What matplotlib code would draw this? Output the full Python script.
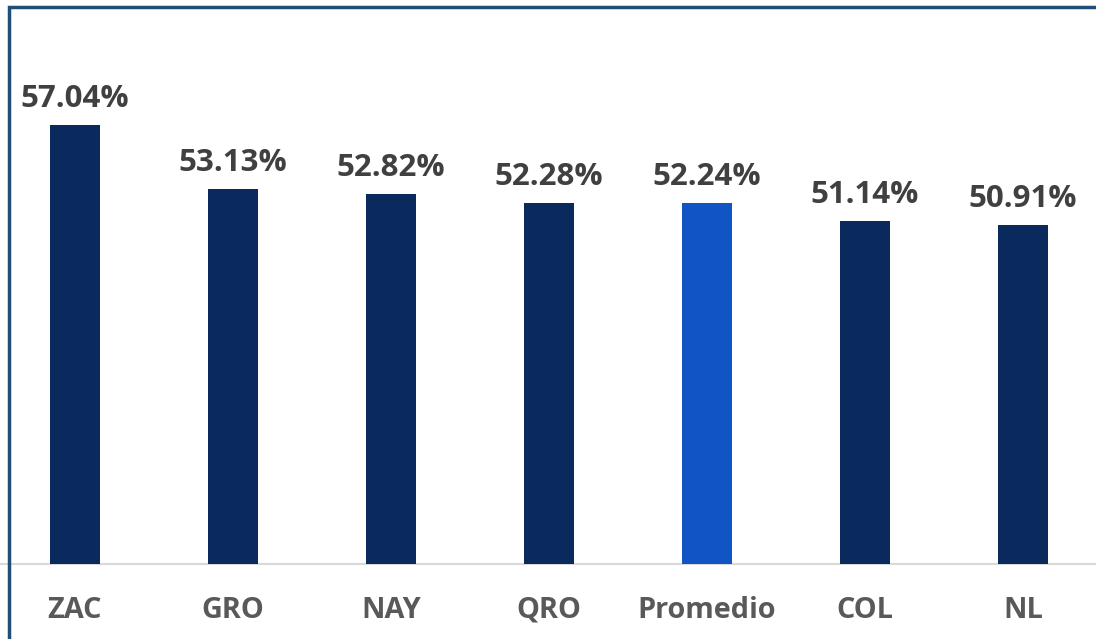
import matplotlib
matplotlib.use("Agg")
import matplotlib.pyplot as plt
from matplotlib.patches import Rectangle

categories = ["ZAC", "GRO", "NAY", "QRO", "Promedio", "COL", "NL"]
values = [57.04, 53.13, 52.82, 52.28, 52.24, 51.14, 50.91]
labels = ["57.04%", "53.13%", "52.82%", "52.28%", "52.24%", "51.14%", "50.91%"]
highlight = "Promedio"

W, H = 1096, 639
fig = plt.figure(figsize=(W / 100, H / 100), dpi=100)
plt.rcParams['font.family'] = ['Open Sans', 'DejaVu Sans']

base_px = 564
ax = fig.add_axes([0, (H - base_px) / H, 1, (base_px - 8) / H])
colors = ["#1155c4" if c == highlight else "#0a2a5e" for c in categories]
x = list(range(len(categories)))
ax.bar(x, values, width=0.316, color=colors, zorder=3)

pxper = 16.33
ymin = 30.15
ax.set_ylim(ymin, ymin + (base_px - 8) / pxper)
ax.set_xlim(-75 / 158, (W - 75) / 158)

for xi, v, lab in zip(x, values, labels):
    ax.annotate(lab, (xi, v), xytext=(0, 11), textcoords="offset pixels",
                ha="center", va="bottom", fontsize=22.5, fontweight="bold",
                color="#404040")

ax.set_xticks(x)
ax.set_xticklabels(categories, fontsize=20.8, fontweight="bold", color="#595959")
ax.tick_params(axis="x", length=0, pad=23)
ax.set_yticks([])
for s in ["top", "right", "left"]:
    ax.spines[s].set_visible(False)
ax.spines["bottom"].set_color("#d9d9d9")
ax.spines["bottom"].set_linewidth(1.5)
ax.patch.set_alpha(0)

fig.patches.append(Rectangle((9 / W, -0.1), 1.2, (H - 7) / H + 0.1,
                             transform=fig.transFigure, fill=False,
                             edgecolor="#1f4e79", linewidth=2.5, zorder=10))

fig.savefig("out.png", dpi=100)
